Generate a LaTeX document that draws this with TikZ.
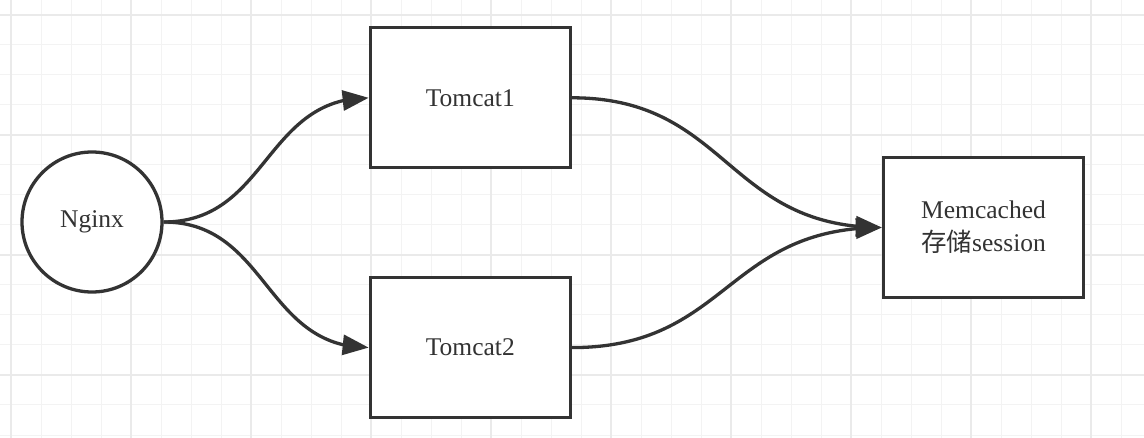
\documentclass[tikz,border=0pt]{standalone}
\usepackage{fontspec}
\setmainfont{Liberation Serif}
\newfontfamily\cjk{Noto Sans CJK SC}
\usetikzlibrary{arrows.meta,bending}
\definecolor{ink}{HTML}{333333}
\definecolor{gridminor}{HTML}{F3F3F3}
\definecolor{gridmajor}{HTML}{EAEAEA}
\tikzset{
  box/.style={draw=ink,line width=3.3pt,fill=white,minimum width=200pt,minimum height=140pt,
    inner sep=0pt,text=ink,font=\fontsize{25.5}{33}\selectfont,align=center},
  roundnode/.style={draw=ink,line width=3.3pt,fill=white,circle,minimum size=140pt,
    inner sep=0pt,text=ink,font=\fontsize{25.5}{33}\selectfont},
  link/.style={draw=ink,line width=3.3pt,-{Triangle[length=26pt,width=20pt,flex]}},
  gridline/.style={gridminor,line width=1pt},
  majorline/.style={gridmajor,line width=1.3pt}
}
\begin{document}
\begin{tikzpicture}[x=1pt,y=-1pt]
\useasboundingbox (0,0) rectangle (1144,438);
\fill[white] (0,0) rectangle (1144,438);
% grid
\foreach \i in {0,...,37} {\draw[gridline] ({11+30*\i},0) -- ({11+30*\i},438);}
\foreach \j in {0,...,14} {\draw[gridline] (0,{15+30*\j}) -- (1144,{15+30*\j});}
\foreach \i in {0,...,9} {\draw[majorline] ({11+120*\i},0) -- ({11+120*\i},438);}
\foreach \j in {0,...,3} {\draw[majorline] (0,{15+120*\j}) -- (1144,{15+120*\j});}
% nodes
\node[roundnode] (nginx) at (92,222) {Nginx};
\node[box] (t1) at (470.3,97.8) {Tomcat1};
\node[box] (t2) at (470.3,347.6) {Tomcat2};
\node[box] (mem) at (983.5,227.5) {Memcached\\{\cjk 存储}session};
% edges
\draw[link] (nginx.east) .. controls +(104,0) and +(-104,0) .. (t1.west);
\draw[link] (nginx.east) .. controls +(104,0) and +(-104,0) .. (t2.west);
\draw[link] (t1.east) .. controls +(156,0) and +(-156,0) .. (mem.west);
\draw[link] (t2.east) .. controls +(156,0) and +(-156,0) .. (mem.west);
\end{tikzpicture}
\end{document}
